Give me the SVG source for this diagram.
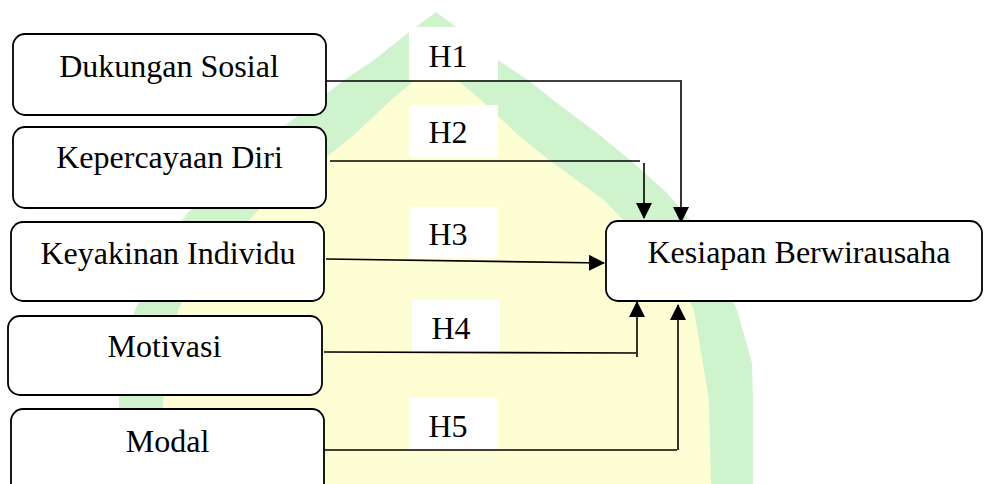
<svg xmlns="http://www.w3.org/2000/svg" width="984" height="484" viewBox="0 0 984 484">
<style>
.box{fill:#fff;stroke:#000;stroke-width:1.8}
.t{font-family:"Liberation Serif","Times New Roman",serif;font-size:32px;fill:#000;text-anchor:middle}
.lbl{fill:#fff}
.c{fill:none;stroke:#000;stroke-width:1.6}
</style>
<defs>
<marker id="ah" markerUnits="userSpaceOnUse" markerWidth="16" markerHeight="16" viewBox="0 0 16 16" refX="15" refY="8" orient="auto">
<path d="M0,0 L16,8 L0,16 Z" fill="#000"/>
</marker>
</defs>
<rect width="984" height="484" fill="#fff"/>
<g id="watermark">
<path fill="#cef3cd" d="M436,12 L464,33 L498,60 L528,80 L553,100 L597,133 L630,160 L667,193 L690,220 L715,260 L737,310 L752,363 L753,400 L753,484 L119,484 L119,400 L120,363 L135,310 L157,260 L182,220 L205,193 L242,160 L275,133 L319,100 L344,80 L374,60 L408,33 Z"/>
<path fill="#fefed4" d="M436,62 L481,100 L516,133 L549,160 L604,200 L642,240 L672,270 L694,310 L709,400 L711,484 L161,484 L163,400 L178,310 L200,270 L230,240 L268,200 L323,160 L356,133 L391,100 Z"/>
</g>
<g id="labels-bg">
<rect class="lbl" x="409" y="27" width="89" height="53"/>
<rect class="lbl" x="409" y="105" width="89" height="52"/>
<rect class="lbl" x="410" y="207" width="88" height="51"/>
<rect class="lbl" x="412" y="300" width="88" height="52"/>
<rect class="lbl" x="410" y="398" width="88" height="52"/>
</g>
<g id="connectors">
<path class="c" d="M326,81 H680"/>
<path class="c" d="M681,80 V222" marker-end="url(#ah)"/>
<path class="c" d="M330,161 H640"/>
<path class="c" d="M644,163 V218" marker-end="url(#ah)"/>
<path class="c" d="M326,259 L604,263" marker-end="url(#ah)"/>
<path class="c" d="M324,352 L636,353"/>
<path class="c" d="M637,357 V302" marker-end="url(#ah)"/>
<path class="c" d="M324,450 H677"/>
<path class="c" d="M678,450 V305" marker-end="url(#ah)"/>
<text class="t" x="448" y="67">H1</text>
<text class="t" x="448" y="143">H2</text>
<text class="t" x="448" y="245">H3</text>
<text class="t" x="451" y="339">H4</text>
<text class="t" x="448" y="437">H5</text>
</g>
<g id="dukungan">
<rect class="box" x="13" y="34" width="313" height="81" rx="12"/>
<text class="t" x="169" y="77">Dukungan Sosial</text>
</g>
<g id="kepercayaan">
<rect class="box" x="13" y="127" width="313" height="81" rx="12"/>
<text class="t" x="169.5" y="168">Kepercayaan Diri</text>
</g>
<g id="keyakinan">
<rect class="box" x="11" y="222" width="313" height="79" rx="12"/>
<text class="t" x="168" y="264">Keyakinan Individu</text>
</g>
<g id="motivasi">
<rect class="box" x="8" y="316" width="314" height="79" rx="12"/>
<text class="t" x="164.5" y="357">Motivasi</text>
</g>
<g id="modal">
<rect class="box" x="11" y="409" width="313" height="90" rx="12"/>
<text class="t" x="167.5" y="452">Modal</text>
</g>
<g id="kesiapan">
<rect class="box" x="606" y="221" width="376" height="80" rx="12"/>
<text class="t" x="799" y="263">Kesiapan Berwirausaha</text>
</g>
</svg>
